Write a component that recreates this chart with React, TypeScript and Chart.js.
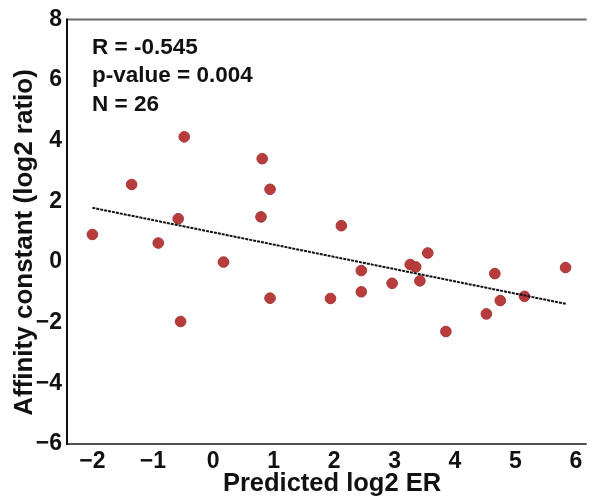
import React, { useEffect, useRef } from "react";
import { Chart, registerables } from "chart.js";

Chart.register(...registerables);

const predictedER = [
  -2.0, -1.35, -0.48, -0.58, -0.91, 0.81, 0.94, 0.79, 2.12, 0.17, -0.54, 0.94, 1.94,
  2.45, 2.45, 2.96, 3.26, 3.35, 3.55, 3.42, 3.85, 4.52, 4.66, 4.75, 5.15, 5.83,
];
const affinity = [
  0.91, 2.56, 4.13, 1.43, 0.63, 3.41, 2.4, 1.49, 1.2, 0.0, -1.96, -1.19, -1.2,
  -0.28, -0.98, -0.7, -0.08, -0.16, 0.3, -0.62, -2.29, -1.71, -0.38, -1.27, -1.13, -0.18,
];
const fitX = [-2.0, 5.84];
const fitY = [1.79, -1.38];
const statsLines = ["R = -0.545", "p-value = 0.004", "N = 26"];
const xTitle = "Predicted log2 ER";
const yTitle = "Affinity constant (log2 ratio)";
const xTicks = [-2, -1, 0, 1, 2, 3, 4, 5, 6];
const yTicks = [-6, -4, -2, 0, 2, 4, 6, 8];
const xRange = [-2.42, 6.18];
const yRange = [-6, 8];

const FONT = "'Liberation Sans', Arial, Helvetica, sans-serif";

const framePlugin = {
  id: "frame",
  afterDatasetsDraw(chart: any) {
    const { ctx, chartArea } = chart;
    const { left, right, top, bottom } = chartArea;
    ctx.save();
    ctx.lineWidth = 2;
    ctx.strokeStyle = "#6a6a6a";
    ctx.beginPath();
    ctx.moveTo(left, top);
    ctx.lineTo(right, top);
    ctx.stroke();
    ctx.strokeStyle = "#505050";
    ctx.beginPath();
    ctx.moveTo(left, bottom);
    ctx.lineTo(right, bottom);
    ctx.stroke();
    ctx.strokeStyle = "#111";
    ctx.beginPath();
    ctx.moveTo(left, top - 1);
    ctx.lineTo(left, bottom + 1);
    ctx.stroke();
    ctx.fillStyle = "#111";
    ctx.font = `bold 22.5px ${FONT}`;
    ctx.textAlign = "left";
    ctx.textBaseline = "alphabetic";
    statsLines.forEach((t, i) => {
      ctx.fillText(t, left + 25, top + 34 + i * 28.5);
    });
    ctx.font = `bold 25.5px ${FONT}`;
    ctx.textAlign = "center";
    ctx.fillText(xTitle, 332, 490.5);
    ctx.translate(25, 242.5);
    ctx.rotate(-Math.PI / 2);
    ctx.font = `bold 26px ${FONT}`;
    ctx.textBaseline = "middle";
    ctx.fillText(yTitle, 0, 0);
    ctx.restore();
  },
};

const minus = (v: number) => String(v).replace("-", "\u2212");

export default function App() {
  const ref = useRef<HTMLCanvasElement>(null);
  useEffect(() => {
    document.body.style.margin = "0";
    const points = predictedER.map((x, i) => ({ x, y: affinity[i] }));
    const fit = fitX.map((x, i) => ({ x, y: fitY[i] }));
    const chart = new Chart(ref.current!, {
      type: "scatter",
      data: {
        datasets: [
          {
            type: "line",
            data: fit,
            borderColor: "#111",
            borderWidth: 2,
            borderDash: [3, 1],
            pointRadius: 0,
            fill: false,
          } as any,
          {
            data: points,
            backgroundColor: "#b83c3c",
            borderColor: "#a53333",
            borderWidth: 1,
            pointRadius: 5.3,
          },
        ],
      },
      options: {
        animation: false,
        responsive: false,
        layout: { padding: { top: 19.5, right: 0, left: 0, bottom: 0 } },
        plugins: { legend: { display: false }, tooltip: { enabled: false } },
        scales: {
          x: {
            type: "linear",
            min: xRange[0],
            max: xRange[1],
            afterBuildTicks: (s: any) => {
              s.ticks = xTicks.map((v) => ({ value: v }));
            },
            afterFit: (s: any) => {
              s.height = 53;
            },
            grid: { display: false, drawTicks: true, tickLength: 3, tickColor: "#555" } as any,
            border: { display: false },
            ticks: {
              color: "#111",
              font: { family: FONT, size: 23, weight: "bold" },
              padding: 1,
              maxRotation: 0,
              autoSkip: false,
              callback: (v: any) => minus(v),
            },
          },
          y: {
            type: "linear",
            min: yRange[0],
            max: yRange[1],
            afterBuildTicks: (s: any) => {
              s.ticks = yTicks.map((v) => ({ value: v }));
            },
            afterFit: (s: any) => {
              s.width = 67;
            },
            grid: { display: false, drawTicks: true, tickLength: 4, tickColor: "#333" } as any,
            border: { display: false },
            ticks: {
              color: "#111",
              font: { family: FONT, size: 23, weight: "bold" },
              padding: 1,
              autoSkip: false,
              callback: (v: any) => minus(v),
            },
          },
        },
      } as any,
      plugins: [framePlugin],
    });
    return () => chart.destroy();
  }, []);
  return (
    <div style={{ position: "absolute", left: 0, top: 0, width: 593, height: 497, background: "#fff" }}>
      <canvas ref={ref} width={593} height={497} style={{ width: 593, height: 497 }} />
    </div>
  );
}
